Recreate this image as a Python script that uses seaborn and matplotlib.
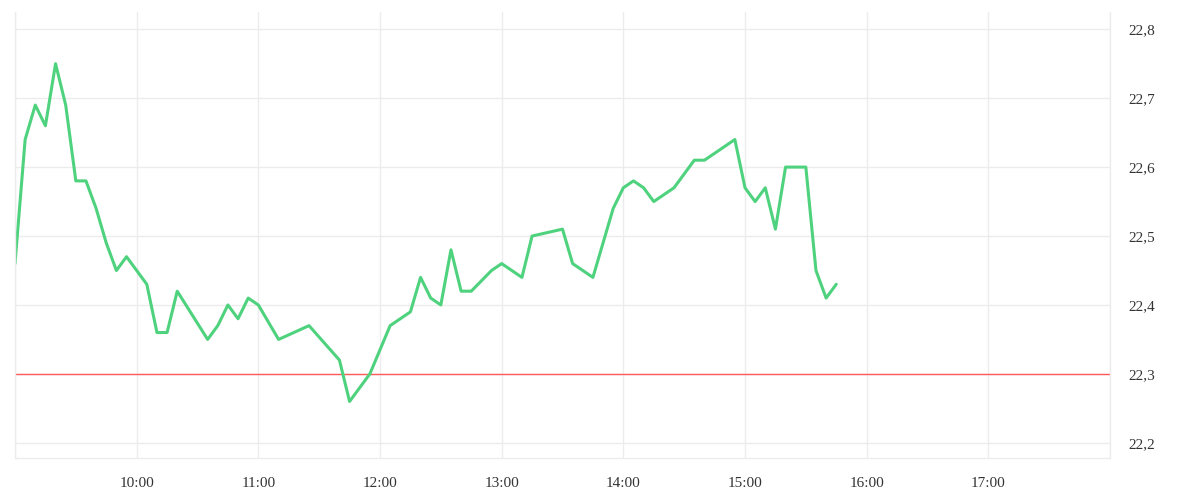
import seaborn as sns
import pandas as pd
import matplotlib.pyplot as plt
import matplotlib.dates as mdates
from matplotlib.ticker import FuncFormatter

times = ["09:00", "09:05", "09:10", "09:15", "09:20", "09:25", "09:30", "09:35", "09:40", "09:45",
         "09:50", "09:55", "10:00", "10:05", "10:10", "10:15", "10:20", "10:35", "10:40", "10:45",
         "10:50", "10:55", "11:00", "11:10", "11:25", "11:40", "11:45", "11:55", "12:05", "12:15",
         "12:20", "12:25", "12:30", "12:35", "12:40", "12:45", "12:55", "13:00", "13:10", "13:15",
         "13:30", "13:35", "13:45", "13:55", "14:00", "14:05", "14:10", "14:15", "14:25", "14:35",
         "14:40", "14:55", "15:00", "15:05", "15:10", "15:15", "15:20", "15:25", "15:30", "15:35",
         "15:40", "15:45"]
prices = [22.46, 22.64, 22.69, 22.66, 22.75, 22.69, 22.58, 22.58, 22.54, 22.49,
          22.45, 22.47, 22.45, 22.43, 22.36, 22.36, 22.42, 22.35, 22.37, 22.40,
          22.38, 22.41, 22.40, 22.35, 22.37, 22.32, 22.26, 22.30, 22.37, 22.39,
          22.44, 22.41, 22.40, 22.48, 22.42, 22.42, 22.45, 22.46, 22.44, 22.50,
          22.51, 22.46, 22.44, 22.54, 22.57, 22.58, 22.57, 22.55, 22.57, 22.61,
          22.61, 22.64, 22.57, 22.55, 22.57, 22.51, 22.60, 22.60, 22.60, 22.45,
          22.41, 22.43]
ref_price = 22.3
y_ticks = [22.2, 22.3, 22.4, 22.5, 22.6, 22.7, 22.8]
day = "2024-01-02"

df = pd.DataFrame({"time": pd.to_datetime([f"{day} {t}" for t in times]), "price": prices})

sns.set_theme(style="whitegrid")
plt.rcParams['font.family'] = ['Liberation Serif', 'DejaVu Serif']

fig = plt.figure(figsize=(12, 5), dpi=100)
ax = fig.add_axes([0.0125, 0.084, 0.9125, 0.892])

sns.lineplot(data=df, x="time", y="price", ax=ax, color="#4fd27e", linewidth=2.2)
ax.axhline(ref_price, color="#ff5a5a", linewidth=1.0, zorder=1)

ax.set_xlim(pd.Timestamp(f"{day} 09:00"), pd.Timestamp(f"{day} 18:00"))
ax.set_ylim(22.178, 22.825)

hours = pd.date_range(f"{day} 09:00", f"{day} 18:00", freq="h")
ax.set_xticks(hours)
ax.set_xticklabels(["" if h.hour in (9, 18) else h.strftime("%H:%M") for h in hours])
ax.set_yticks(y_ticks)
ax.yaxis.set_major_formatter(FuncFormatter(lambda v, p: f"{v:.1f}".replace(".", ",")))
ax.yaxis.tick_right()

ax.grid(True, color="#ececec", linewidth=1.0)
ax.tick_params(axis="x", length=10, color="#ececec", width=1.0, pad=4, labelsize=11, labelcolor="#333333")
ax.tick_params(axis="y", length=0, pad=13, labelsize=11, labelcolor="#333333")
ax.set_xlabel("")
ax.set_ylabel("")

for side in ["left", "right", "bottom"]:
    ax.spines[side].set_color("#ececec")
    ax.spines[side].set_linewidth(1.0)
ax.spines["top"].set_visible(False)

plt.savefig("out.png", dpi=100)
